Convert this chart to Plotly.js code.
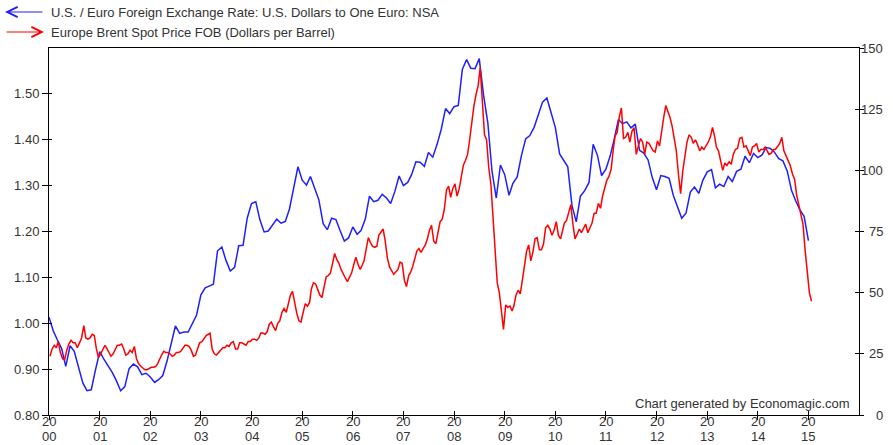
<!DOCTYPE html>
<html>
<head>
<meta charset="utf-8">
<script src="https://cdn.plot.ly/plotly-3.0.1.min.js"></script>
<style>html,body{margin:0;padding:0;background:#fff;}#chart{width:893px;height:445px;}</style>
</head>
<body>
<div id="chart"></div>
<script>
// U.S. / Euro exchange rate, monthly (first of month), Jan 2000 .. Jan 2015
const eur2000 = [1.013,0.983,0.964,0.945,0.906,0.951,0.939,0.905,0.870,0.853,0.855,0.898];
const eur2001 = [0.938,0.921,0.908,0.893,0.875,0.853,0.862,0.901,0.911,0.905,0.888,0.891];
const eur2002 = [0.883,0.871,0.877,0.886,0.917,0.956,0.994,0.978,0.981,0.981,1.001,1.018];
const eur2003 = [1.062,1.077,1.081,1.085,1.158,1.166,1.137,1.114,1.122,1.169,1.170,1.229];
const eur2004 = [1.261,1.265,1.226,1.199,1.201,1.214,1.227,1.218,1.222,1.249,1.299,1.341];
const eur2005 = [1.312,1.301,1.320,1.294,1.269,1.217,1.204,1.229,1.226,1.202,1.179,1.186];
const eur2006 = [1.210,1.194,1.202,1.227,1.277,1.265,1.268,1.281,1.273,1.261,1.288,1.321];
const eur2007 = [1.300,1.307,1.324,1.352,1.351,1.342,1.372,1.362,1.390,1.423,1.468,1.457];
const eur2008 = [1.472,1.475,1.553,1.575,1.556,1.555,1.577,1.498,1.437,1.332,1.273,1.345];
const eur2009 = [1.324,1.279,1.305,1.319,1.365,1.402,1.409,1.427,1.456,1.482,1.491,1.461];
const eur2010 = [1.427,1.369,1.357,1.341,1.257,1.221,1.277,1.289,1.307,1.390,1.366,1.322];
const eur2011 = [1.336,1.365,1.400,1.444,1.435,1.439,1.426,1.434,1.377,1.371,1.356,1.318];
const eur2012 = [1.291,1.322,1.320,1.316,1.279,1.253,1.229,1.240,1.286,1.297,1.283,1.312];
const eur2013 = [1.330,1.335,1.295,1.303,1.298,1.320,1.309,1.331,1.336,1.364,1.350,1.370];
const eur2014 = [1.361,1.367,1.383,1.381,1.373,1.359,1.354,1.332,1.290,1.267,1.247,1.233];
const eur2015 = [1.180];

// Europe Brent spot price, two readings per month (8th and 23rd), Jan 2000 .. Jan 2015
const brent2000 = [24.0,27.0,28.5,27.5,30.0,25.5,23.0,22.5,26.5,29.0,30.5,29.5,29.5,27.5,29.5,31.5,36.5,31.5,31.0,31.5,33.0,32.5,27.0,23.5];
const brent2001 = [25.0,26.5,28.5,27.0,25.5,24.0,25.0,26.5,28.5,28.5,29.0,27.0,24.5,25.0,26.5,25.5,28.0,23.0,21.0,20.0,19.0,18.5,18.5,19.0];
const brent2002 = [19.5,19.5,19.8,21.0,23.0,24.5,26.0,25.5,25.5,25.0,24.0,24.5,25.5,25.5,26.0,27.5,28.5,28.5,28.0,26.5,24.0,24.5,27.5,29.5];
const brent2003 = [30.0,31.5,32.5,33.0,33.5,27.0,25.0,24.5,25.5,26.5,27.5,27.5,28.5,28.0,29.5,30.0,27.0,27.0,29.5,29.5,29.0,28.5,30.0,30.0];
const brent2004 = [31.0,31.0,30.5,31.5,33.5,33.5,33.0,34.0,37.0,38.0,36.0,34.5,37.5,38.5,42.0,43.5,42.0,45.0,49.0,50.5,45.5,41.5,38.5,38.0];
const brent2005 = [42.0,45.5,44.5,46.0,51.5,54.0,53.5,51.0,49.0,48.0,52.5,56.5,57.0,58.0,62.0,66.0,63.5,62.0,59.5,57.5,56.0,54.5,56.0,58.0];
const brent2006 = [61.5,64.5,61.5,59.5,61.0,63.0,68.0,72.5,70.5,69.0,68.5,69.0,73.5,74.5,76.0,71.0,64.0,60.5,59.0,57.5,58.5,59.5,62.5,62.0];
const brent2007 = [55.0,52.5,57.0,58.5,60.5,63.5,67.0,68.0,66.5,68.0,69.5,72.0,75.5,77.5,71.0,70.0,75.0,79.0,80.0,84.0,92.0,93.5,89.0,92.5];
const brent2008 = [94.5,89.5,92.5,97.5,102.0,104.0,106.5,112.5,120.0,126.0,131.0,134.5,142.0,127.0,114.5,112.5,101.0,94.5,80.0,64.5,54.0,50.0,43.0,35.0];
const brent2009 = [45.0,44.0,44.5,42.5,44.5,49.0,51.0,49.5,55.0,60.0,67.0,69.5,63.0,66.5,72.0,72.5,67.5,67.5,70.0,76.5,77.5,76.0,73.5,75.5];
const brent2010 = [79.0,73.5,72.0,75.5,78.5,79.5,83.5,86.0,78.0,72.0,74.0,76.0,74.5,76.5,78.0,74.5,77.0,78.5,82.5,82.5,86.5,84.5,89.5,93.0];
const brent2011 = [96.0,97.5,100.5,108.5,114.0,115.5,122.0,125.5,113.0,113.5,115.5,111.5,116.0,117.5,106.5,110.0,113.0,111.5,106.5,111.5,111.0,109.5,108.0,107.5];
const brent2012 = [112.0,110.0,117.5,122.0,126.5,124.0,121.5,118.0,112.5,108.0,98.0,90.5,99.5,104.5,111.5,114.5,113.5,111.0,112.5,110.5,108.0,109.5,108.5,110.0];
const brent2013 = [111.5,113.5,117.5,114.0,109.5,108.0,104.5,100.0,103.0,102.0,103.5,102.5,106.5,108.5,109.0,113.0,113.5,109.5,110.0,108.0,106.0,109.5,110.0,111.0];
const brent2014 = [107.5,108.5,108.5,109.5,108.0,106.5,107.0,108.5,108.5,110.0,111.0,113.5,108.0,106.0,104.0,102.0,98.5,96.5,90.0,86.0,81.5,78.0,67.5,58.0];
const brent2015 = [50.0,46.5];

const yearTicks = ['2000','2001','2002','2003','2004','2005','2006','2007','2008','2009','2010','2011','2012','2013','2014','2015'];
const yearTopText = ['20','20','20','20','20','20','20','20','20','20','20','20','20','20','20','20'];
const yearBottomText = ['00','01','02','03','04','05','06','07','08','09','10','11','12','13','14','15'];
const leftTicks = [0.8,0.9,1.0,1.1,1.2,1.3,1.4,1.5];
const rightTicks = [0,25,50,75,100,125,150];

const eurSeries = [eur2000,eur2001,eur2002,eur2003,eur2004,eur2005,eur2006,eur2007,eur2008,eur2009,eur2010,eur2011,eur2012,eur2013,eur2014,eur2015];
const brentSeries = [brent2000,brent2001,brent2002,brent2003,brent2004,brent2005,brent2006,brent2007,brent2008,brent2009,brent2010,brent2011,brent2012,brent2013,brent2014,brent2015];

const pad = n => (n < 10 ? '0' : '') + n;
const eurX = [], eurY = [];
eurSeries.forEach((arr, yi) => arr.forEach((v, mi) => { eurX.push((2000 + yi) + '-' + pad(mi + 1) + '-01'); eurY.push(v); }));
const brX = [], brY = [];
brentSeries.forEach((arr, yi) => arr.forEach((v, i) => {
  const m = Math.floor(i / 2) + 1, d = (i % 2 === 0) ? '08' : '23';
  brX.push((2000 + yi) + '-' + pad(m) + '-' + d); brY.push(v);
}));

const FONT = 'Liberation Sans, Arial, Helvetica, sans-serif';
const TXT = '#333333';
const FS = 13;

const traces = [
  { x: eurX, y: eurY, type: 'scatter', mode: 'lines', xaxis: 'x', yaxis: 'y', name: 'U.S. / Euro',
    line: { color: '#1f1fff', width: 1.5 }, hoverinfo: 'skip' },
  { x: brX, y: brY, type: 'scatter', mode: 'lines', xaxis: 'x', yaxis: 'y2', name: 'Brent',
    line: { color: '#ff0000', width: 1.5 }, hoverinfo: 'skip' },
  // empty traces that only carry the inner halves of the crossing ticks
  { x: [], y: [], type: 'scatter', mode: 'lines', xaxis: 'x2', yaxis: 'y3', hoverinfo: 'skip' },
  { x: [], y: [], type: 'scatter', mode: 'lines', xaxis: 'x', yaxis: 'y4', hoverinfo: 'skip' }
];

const W = 893, H = 445, ML = 49, MR = 34, MT = 48, MB = 30;
const PW = W - ML - MR, PH = H - MT - MB;
const px = p => (p - ML) / PW;
const py = p => (H - MB - p) / PH;

const xRange = ['2000-01-01', '2016-01-01'];
const tickDates = yearTicks.map(y => y + '-01-01');

const annotations = [
  { xref: 'paper', yref: 'paper', x: px(5), y: py(12), ax: 39, ay: 0, axref: 'pixel', ayref: 'pixel',
    text: '', showarrow: true, arrowhead: 5, arrowsize: 1.7, arrowwidth: 1.2, arrowcolor: '#1f1fff' },
  { xref: 'paper', yref: 'paper', x: px(44), y: py(32), ax: -39, ay: 0, axref: 'pixel', ayref: 'pixel',
    text: '', showarrow: true, arrowhead: 5, arrowsize: 1.7, arrowwidth: 1.2, arrowcolor: '#ff0000' },
  { xref: 'paper', yref: 'paper', x: px(49), y: py(12), xanchor: 'left', yanchor: 'middle', showarrow: false,
    text: 'U.S. / Euro Foreign Exchange Rate: U.S. Dollars to One Euro: NSA', font: { family: FONT, size: FS, color: TXT } },
  { xref: 'paper', yref: 'paper', x: px(49), y: py(32), xanchor: 'left', yanchor: 'middle', showarrow: false,
    text: 'Europe Brent Spot Price FOB (Dollars per Barrel)', font: { family: FONT, size: FS, color: TXT } },
  { xref: 'paper', yref: 'paper', x: px(852), y: py(403), xanchor: 'right', yanchor: 'middle', showarrow: false,
    text: 'Chart generated by Economagic.com', font: { family: FONT, size: FS, color: TXT } }
];
tickDates.forEach((d, i) => {
  annotations.push({ xref: 'x', yref: 'paper', x: d, y: py(421.5), xanchor: 'center', yanchor: 'middle', showarrow: false,
    borderpad: 0, text: yearTopText[i], font: { family: FONT, size: FS, color: TXT } });
  annotations.push({ xref: 'x', yref: 'paper', x: d, y: py(436.5), xanchor: 'center', yanchor: 'middle', showarrow: false,
    borderpad: 0, text: yearBottomText[i], font: { family: FONT, size: FS, color: TXT } });
});
rightTicks.forEach(v => {
  annotations.push({ xref: 'paper', yref: 'y2', x: px(885), y: v, xanchor: 'right', yanchor: 'middle', showarrow: false,
    text: String(v), font: { family: FONT, size: FS, color: TXT } });
});

const baseAxis = { showgrid: false, zeroline: false, tickwidth: 1, tickcolor: '#000' };

const layout = {
  width: W, height: H,
  margin: { l: ML, r: MR, t: MT, b: MB, pad: 0 },
  paper_bgcolor: '#ffffff', plot_bgcolor: '#ffffff',
  showlegend: false,
  font: { family: FONT, size: FS, color: TXT },
  xaxis: Object.assign({}, baseAxis, {
    type: 'date', range: xRange, tickvals: tickDates, showticklabels: false,
    ticks: 'outside', ticklen: 4,
    showline: true, linecolor: '#000', linewidth: 1, mirror: true
  }),
  xaxis2: Object.assign({}, baseAxis, {
    type: 'date', range: xRange, tickvals: tickDates, showticklabels: false,
    ticks: 'inside', ticklen: 4, overlaying: 'x', anchor: 'y3', side: 'bottom', showline: false
  }),
  yaxis: Object.assign({}, baseAxis, {
    range: [0.8, 1.6], tickvals: leftTicks, tickformat: '.2f',
    ticks: 'outside', ticklen: 6,
    showline: true, linecolor: '#000', linewidth: 1,
    tickfont: { family: FONT, size: FS, color: TXT }
  }),
  yaxis2: Object.assign({}, baseAxis, {
    range: [0, 150], tickvals: rightTicks, overlaying: 'y', side: 'right', showticklabels: false,
    ticks: 'outside', ticklen: 4,
    showline: true, linecolor: '#000', linewidth: 1
  }),
  yaxis3: Object.assign({}, baseAxis, {
    range: [0.8, 1.6], tickvals: leftTicks, overlaying: 'y', side: 'left', anchor: 'x2',
    ticks: 'inside', ticklen: 3, showticklabels: false, showline: false
  }),
  yaxis4: Object.assign({}, baseAxis, {
    range: [0, 150], tickvals: rightTicks, overlaying: 'y', side: 'right',
    ticks: 'inside', ticklen: 4, showticklabels: false, showline: false
  }),
  annotations: annotations
};

Plotly.newPlot('chart', traces, layout, { staticPlot: true, displayModeBar: false });
</script>
</body>
</html>
